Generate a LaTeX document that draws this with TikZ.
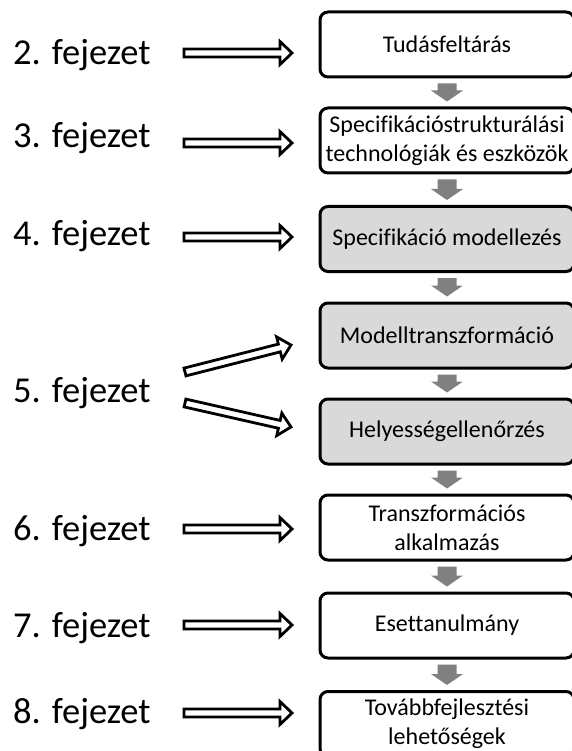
\documentclass[tikz,border=0pt]{standalone}
\usepackage{fontspec}
\setmainfont{Carlito}[Ligatures=NoCommon]
\usetikzlibrary{calc}

\definecolor{boxgray}{HTML}{D9D9D9}
\definecolor{flowgray}{HTML}{808080}

% Block arrow from #2 to #3: style #1, half shaft #4, half head #5, head length #6
\newcommand{\blockarrow}[6]{%
  \path[#1] let \p1=($(#3)-(#2)$), \n1={atan2(\y1,\x1)}, \n2={veclen(\x1,\y1)} in
    [shift={(#2)}, rotate=\n1]
    (0,-#4) -- ({\n2-#6},-#4) -- ({\n2-#6},-#5) -- (\n2,0)
    -- ({\n2-#6},#5) -- ({\n2-#6},#4) -- (0,#4) -- cycle;}

\tikzset{
  stage/.style={draw=black, line width=3pt, rounded corners=8pt, fill=white,
    minimum width=254pt, minimum height=65pt, align=center, inner sep=0pt,
    font=\fontsize{24}{29}\selectfont},
  shaded/.style={stage, fill=boxgray},
  chapter/.style={anchor=base west, inner sep=0pt,
    font=\fontsize{36.5}{41}\selectfont},
  hollow/.style={draw=black, fill=white, line width=2.8pt, line join=miter},
  flow/.style={fill=flowgray}
}

\begin{document}
\begin{tikzpicture}[x=1pt, y=-1pt]
\useasboundingbox (0,0) rectangle (571,751);

% process stages
\node[stage]  (s1) at (447,44.5)  {Tudásfeltárás};
\node[stage]  (s2) at (447,140.5) {Specifikációstrukturálási\\technológiák és eszközök};
\node[shaded] (s3) at (447,239)   {Specifikáció modellezés};
\node[shaded] (s4) at (447,335.5) {Modelltranszformáció};
\node[shaded] (s5) at (447,431.5) {Helyességellenőrzés};
\node[stage]  (s6) at (447,527.5) {Transzformációs\\alkalmazás};
\node[stage]  (s7) at (447,625.5) {Esettanulmány};
\node[stage]  (s8) at (447,724)   {Továbbfejlesztési\\lehetőségek};

% grey flow arrows between stages
\foreach \a/\b in {s1/s2, s2/s3, s3/s4, s4/s5, s5/s6, s6/s7, s7/s8} {
  \coordinate (\a-out) at ($(\a.south)+(0,5)$);
  \coordinate (\b-in) at ($(\b.north)+(0,-5)$);
  \blockarrow{flow}{\a-out}{\b-in}{9.5}{16}{11}
}

% chapter labels
\node[chapter] (c2) at (13,65)  {2. fejezet};
\node[chapter] (c3) at (13,148) {3. fejezet};
\node[chapter] (c4) at (13,245) {4. fejezet};
\node[chapter] (c5) at (13,402) {5. fejezet};
\node[chapter] (c6) at (13,540) {6. fejezet};
\node[chapter] (c7) at (13,637) {7. fejezet};
\node[chapter] (c8) at (13,723) {8. fejezet};

% hollow arrows from chapters to stages
\coordinate (c2t) at (184,53);  \coordinate (c2h) at (292,53);
\coordinate (c3t) at (184,143); \coordinate (c3h) at (292,143);
\coordinate (c4t) at (184,237); \coordinate (c4h) at (292,237);
\coordinate (c5ut) at (185,372); \coordinate (c5uh) at (291,345);
\coordinate (c5lt) at (185,403); \coordinate (c5lh) at (291,427);
\coordinate (c6t) at (184,529); \coordinate (c6h) at (292,529);
\coordinate (c7t) at (184,625); \coordinate (c7h) at (292,625);
\coordinate (c8t) at (184,713); \coordinate (c8h) at (292,713);

\foreach \t/\h in {c2t/c2h, c3t/c3h, c4t/c4h, c5ut/c5uh, c5lt/c5lh,
                   c6t/c6h, c7t/c7h, c8t/c8h} {
  \blockarrow{hollow}{\t}{\h}{4}{11.5}{12}
}
\end{tikzpicture}
\end{document}
